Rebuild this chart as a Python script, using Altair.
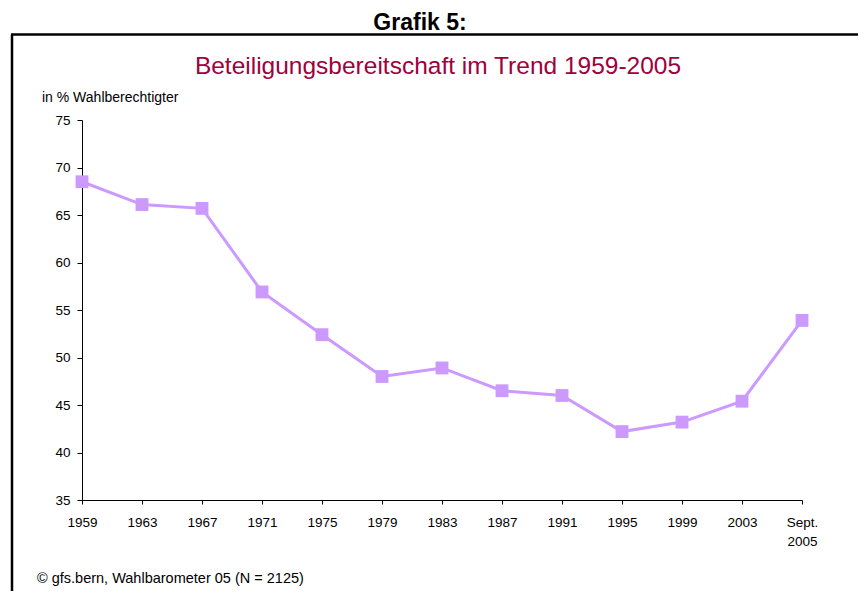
import altair as alt
import pandas as pd

years = ["1959", "1963", "1967", "1971", "1975", "1979", "1983", "1987", "1991", "1995", "1999", "2003", "Sept. 2005"]
values = [68.5, 66.1, 65.7, 56.9, 52.4, 48.0, 48.9, 46.5, 46.0, 42.2, 43.2, 45.4, 53.9]

df = pd.DataFrame({"year": years, "value": values})

LINE = "#CC99FF"
FONT = "Liberation Sans"

base = alt.Chart(df)

x_enc = alt.X("year:O", sort=None, title=None,
              scale=alt.Scale(type="point", padding=0),
              axis=alt.Axis(labelAngle=0, labelFontSize=13.5, labelColor="black", labelFont=FONT,
                            tickColor="black", domainColor="black", tickSize=4, labelPadding=11,
                            labelExpr="datum.label == 'Sept. 2005' ? ['Sept.', '2005'] : datum.label",
                            labelLineHeight=19))
y_enc = alt.Y("value:Q", title=None,
              scale=alt.Scale(domain=[35, 75], nice=False, zero=False),
              axis=alt.Axis(values=list(range(35, 80, 5)), grid=False, labelFontSize=13.5,
                            labelColor="black", labelFont=FONT, tickColor="black",
                            domainColor="black", tickSize=5, labelPadding=7))

line = base.mark_line(color=LINE, strokeWidth=3).encode(x=x_enc, y=y_enc)
pts = base.mark_point(shape="square", filled=True, opacity=1, color=LINE, size=165).encode(x=x_enc, y=y_enc)

one = alt.Data(values=[{}])

left_border = alt.Chart(one).mark_rule(color="black", strokeWidth=2.5).encode(
    x=alt.value(-70), y=alt.value(-85.5), y2=alt.value(600))
top_border = alt.Chart(one).mark_rule(color="black", strokeWidth=2.5).encode(
    x=alt.value(-71), x2=alt.value(900), y=alt.value(-85.5))

grafik = alt.Chart(one).mark_text(text="Grafik 5:", font=FONT, fontWeight="bold",
                                  fontSize=23, align="center", baseline="alphabetic", color="black").encode(
    x=alt.value(338), y=alt.value(-90.5))
title = alt.Chart(one).mark_text(text="Beteiligungsbereitschaft im Trend 1959-2005", font=FONT,
                                 fontSize=24.5, align="center", baseline="alphabetic", color="#A0003C").encode(
    x=alt.value(356), y=alt.value(-46))
ylabel = alt.Chart(one).mark_text(text="in % Wahlberechtigter", font=FONT, fontSize=14,
                                  align="left", baseline="alphabetic", color="black").encode(
    x=alt.value(-40), y=alt.value(-18))
footer = alt.Chart(one).mark_text(text="© gfs.bern, Wahlbarometer 05 (N = 2125)", font=FONT, fontSize=14.5,
                                  align="left", baseline="alphabetic", color="black").encode(
    x=alt.value(-45), y=alt.value(463))

chart = alt.layer(left_border, top_border, grafik, title, ylabel, footer, line, pts).properties(
    width=720, height=380,
    background="white",
    autosize=alt.AutoSizeParams(type="none"),
    padding={"left": 74, "top": 112, "right": 56, "bottom": 91},
).configure_view(strokeWidth=0, stroke="transparent")

chart.save("out.html", embed_options={"renderer": "svg", "actions": False})
